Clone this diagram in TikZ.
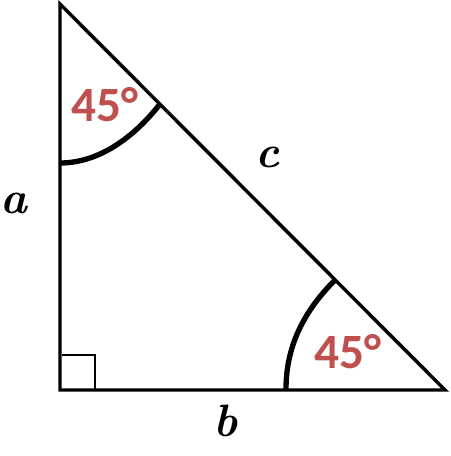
\documentclass[tikz,border=0pt]{standalone}
\usepackage{fontspec}
\newfontfamily\degfont{Carlito}
\definecolor{degred}{RGB}{192,80,77}
\tikzset{every picture/.style={line width=0.75pt}}
\tikzset{
  side/.style={line width=2.6pt, line join=miter},
  anglearc/.style={line width=4pt},
  degtext/.style={text=degred, font=\degfont\bfseries\fontsize{37}{37}\selectfont, inner sep=0pt},
  sidetext/.style={font=\bfseries\itshape\fontsize{34}{34}\selectfont, inner sep=0pt}
}
\begin{document}
\begin{tikzpicture}[x=0.75pt,y=0.75pt,yscale=-1,xscale=1]
\useasboundingbox (0,0) rectangle (450,456);

% Vertices
\coordinate (top) at (60,4);
\coordinate (corner) at (60,390);
\coordinate (right) at (445,390);

%Shape: Triangle
\draw [side] (top) -- (corner) -- (right) -- cycle ;

%Shape: Right angle mark
\draw [line width=1.9pt] (62,355) -- (95,355) -- (95,389) ;

%Curve Lines: angle arcs
\draw [anglearc] (60,163) .. controls (100,163) and (135,136) .. (160,104) ;
\draw [anglearc] (286,389) .. controls (286,345) and (305,310) .. (335,280) ;

% Text Node
\draw (105,105) node [degtext] (degtop) {45°};
% Text Node
\draw (348,352) node [degtext] (degright) {45°};
% Text Node
\draw (14,203) node [sidetext] (lbla) {a};
% Text Node
\draw (226,421) node [sidetext] (lblb) {b};
% Text Node
\draw (268,157) node [sidetext] (lblc) {c};

\end{tikzpicture}
\end{document}
